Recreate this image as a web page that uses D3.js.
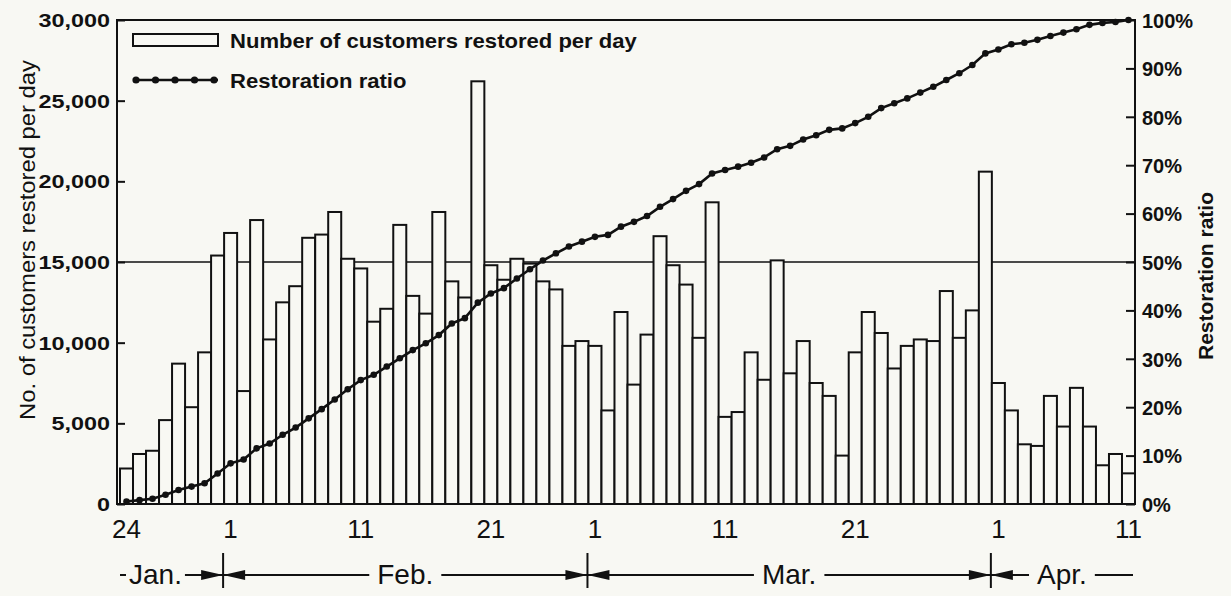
<!DOCTYPE html>
<html>
<head>
<meta charset="utf-8">
<script src="https://cdn.jsdelivr.net/npm/d3@7"></script>
<style>
  html, body { margin: 0; padding: 0; background: #f8f8f3; }
  svg { display: block; }
  text { font-family: "Liberation Sans", Arial, Helvetica, sans-serif; fill: #111; }
</style>
</head>
<body>
<svg id="chart" width="1231" height="596"></svg>
<script>
// Daily gas supply restoration, 24 Jan – 11 Apr 1995
const firstDay = new Date(1995, 0, 24);
const lastDay = new Date(1995, 3, 11);
const fmtDay = d3.timeFormat("%Y-%m-%d");
const days = d3.timeDay.range(firstDay, d3.timeDay.offset(lastDay, 1)).map(fmtDay);

// Number of customers restored on each day
const customersRestored = [
  2200, 3100, 3300, 5200, 8700, 6000, 9400, 15400,                      // Jan 24–31
  16800, 7000, 17600, 10200, 12500, 13500, 16500, 16700, 18100, 15200, // Feb 1–10
  14600, 11300, 12100, 17300, 12900, 11800, 18100, 13800, 12800, 26200, // Feb 11–20
  14800, 13900, 15200, 14900, 13800, 13300, 9800, 10100,               // Feb 21–28
  9800, 5800, 11900, 7400, 10500, 16600, 14800, 13600, 10300, 18700,   // Mar 1–10
  5400, 5700, 9400, 7700, 15100, 8100, 10100, 7500, 6700, 3000,        // Mar 11–20
  9400, 11900, 10600, 8400, 9800, 10200, 10100, 13200, 10300, 12000, 20600, // Mar 21–31
  7500, 5800, 3700, 3600, 6700, 4800, 7200, 4800, 2400, 3100, 1900     // Apr 1–11
];

// Cumulative restoration ratio (%) at the end of each day
const restorationRatio = [
  0.5, 0.8, 1.1, 1.9, 2.9, 3.6, 4.3, 6.3,
  8.4, 9.2, 11.5, 12.5, 14.3, 15.8, 17.7, 19.6, 21.6, 23.7,
  25.6, 26.7, 28.4, 30.1, 31.8, 33.2, 34.9, 37.3, 38.4, 41.6,
  43.5, 44.6, 46.6, 48.5, 50.3, 51.8, 53.2, 54.2,
  55.2, 55.6, 57.3, 58.3, 59.5, 61.4, 63.0, 64.7, 66.1, 68.3,
  69.0, 69.7, 70.5, 71.6, 73.3, 74.0, 75.3, 76.2, 77.3, 77.6,
  78.7, 80.0, 81.8, 82.8, 83.8, 85.0, 86.2, 87.6, 89.0, 90.7, 93.1,
  93.9, 95.0, 95.3, 95.9, 96.7, 97.4, 98.1, 99.0, 99.4, 99.6, 100
];

const leftTicks = [0, 5000, 10000, 15000, 20000, 25000, 30000];
const rightTicks = [0, 10, 20, 30, 40, 50, 60, 70, 80, 90, 100];
const tickDays = ["1995-01-24", "1995-02-01", "1995-02-11", "1995-02-21", "1995-03-01",
                  "1995-03-11", "1995-03-21", "1995-04-01", "1995-04-11"];
const tickLabels = ["24", "1", "11", "21", "1", "11", "21", "1", "11"];
const monthNames = ["Jan.", "Feb.", "Mar.", "Apr."];
const monthStarts = ["1995-01-24", "1995-02-01", "1995-03-01", "1995-04-01"];
const referenceLevel = 15000;

// ---- layout ----
const W = 1231, H = 596;
const plot = { left: 117, right: 1135, top: 20, bottom: 504 };
const ink = "#111";
const paper = "#f8f8f3";

const svg = d3.select("#chart");
svg.append("rect").attr("width", W).attr("height", H).attr("fill", paper);

const x = d3.scaleBand().domain(days).range([120, plot.right]).paddingInner(0).paddingOuter(0);
const y = d3.scaleLinear().domain([0, 30000]).range([plot.bottom, plot.top]);
const yR = d3.scaleLinear().domain([0, 100]).range([plot.bottom, plot.top]);

// stretch text horizontally to the given factor
function stretch(sel, k) {
  sel.each(function () {
    const len = this.getComputedTextLength();
    d3.select(this).attr("textLength", len * k).attr("lengthAdjust", "spacingAndGlyphs");
  });
}

// reference line at 15,000 (behind the bars)
svg.append("line")
  .attr("x1", plot.left).attr("x2", plot.right)
  .attr("y1", y(referenceLevel)).attr("y2", y(referenceLevel))
  .attr("stroke", ink).attr("stroke-width", 1.6);

// bars
svg.append("g").selectAll("rect")
  .data(customersRestored)
  .join("rect")
  .attr("x", (d, i) => x(days[i]))
  .attr("width", x.bandwidth())
  .attr("y", d => y(d))
  .attr("height", d => y(0) - y(d))
  .attr("fill", paper)
  .attr("stroke", ink)
  .attr("stroke-width", 2);

// frame
svg.append("rect")
  .attr("x", plot.left).attr("y", plot.top)
  .attr("width", plot.right - plot.left).attr("height", plot.bottom - plot.top)
  .attr("fill", "none").attr("stroke", ink).attr("stroke-width", 2);

// left axis
const gL = svg.append("g").attr("transform", `translate(${plot.left},0)`)
  .call(d3.axisLeft(y).tickValues(leftTicks).tickFormat(d3.format(","))
        .tickSizeInner(-8).tickSizeOuter(0).tickPadding(7));
gL.select(".domain").remove();
gL.selectAll(".tick line").attr("stroke", ink).attr("stroke-width", 2);
gL.selectAll(".tick text").attr("font-size", 18).attr("font-weight", "bold")
  .attr("font-family", "Liberation Sans, Arial, sans-serif").attr("fill", ink)
  .attr("dy", "0.36em").call(stretch, 1.3);

// right axis
const gR = svg.append("g").attr("transform", `translate(${plot.right},0)`)
  .call(d3.axisRight(yR).tickValues(rightTicks).tickFormat(d => d + "%")
        .tickSizeInner(-9).tickSizeOuter(0).tickPadding(7));
gR.select(".domain").remove();
gR.selectAll(".tick line").attr("stroke", ink).attr("stroke-width", 2);
gR.selectAll(".tick text").attr("font-size", 20).attr("font-weight", "bold")
  .attr("font-family", "Liberation Sans, Arial, sans-serif").attr("fill", ink)
  .attr("dy", "0.36em");

// restoration ratio line
const line = d3.line()
  .x((d, i) => x(days[i]) + x.bandwidth() / 2)
  .y(d => yR(d));
svg.append("path").datum(restorationRatio)
  .attr("d", line).attr("fill", "none").attr("stroke", ink).attr("stroke-width", 2.6);
svg.append("g").selectAll("circle")
  .data(restorationRatio)
  .join("circle")
  .attr("cx", (d, i) => x(days[i]) + x.bandwidth() / 2)
  .attr("cy", d => yR(d))
  .attr("r", 3.3)
  .attr("fill", ink);

// day labels under the axis
svg.append("g").selectAll("text")
  .data(tickDays)
  .join("text")
  .attr("x", d => x(d) + x.bandwidth() / 2)
  .attr("y", 538)
  .attr("text-anchor", "middle")
  .attr("font-size", 26)
  .text((d, i) => tickLabels[i]);

// month row with arrows
const rowY = 575;
const seps = monthStarts.map((d, i) => i === 0 ? 120 : x(d) - 1);
const rowEnd = 1133;
const monthG = svg.append("g");
monthNames.forEach((name, i) => {
  const left = seps[i];
  const right = i === monthNames.length - 1 ? rowEnd : seps[i + 1];
  const t = monthG.append("text").attr("y", 584).attr("font-size", 28).text(name);
  const w = t.node().getComputedTextLength();
  let tx, gap;
  if (i === 0) { tx = left + 9; gap = 3; } else { tx = (left + right) / 2 - w / 2; gap = 8; }
  t.attr("x", tx);
  monthG.append("line").attr("x1", left).attr("x2", tx - gap)
    .attr("y1", rowY).attr("y2", rowY).attr("stroke", ink).attr("stroke-width", 2);
  monthG.append("line").attr("x1", tx + w + gap).attr("x2", right)
    .attr("y1", rowY).attr("y2", rowY).attr("stroke", ink).attr("stroke-width", 2);
});
seps.slice(1).forEach(s => {
  monthG.append("line").attr("x1", s).attr("x2", s).attr("y1", 553).attr("y2", 588)
    .attr("stroke", ink).attr("stroke-width", 2);
  monthG.append("path").attr("d", `M${s},${rowY}L${s - 22},${rowY - 5}L${s - 22},${rowY + 5}Z`).attr("fill", ink);
  monthG.append("path").attr("d", `M${s},${rowY}L${s + 22},${rowY - 5}L${s + 22},${rowY + 5}Z`).attr("fill", ink);
});

// legend
const lg = svg.append("g");
lg.append("rect").attr("x", 133).attr("y", 34).attr("width", 85).attr("height", 12)
  .attr("fill", paper).attr("stroke", ink).attr("stroke-width", 2);
lg.append("text").attr("x", 230).attr("y", 47.5).attr("font-size", 21).attr("font-weight", "bold")
  .text("Number of customers restored per day").call(stretch, 1.05);
lg.append("line").attr("x1", 133).attr("x2", 218).attr("y1", 80).attr("y2", 80)
  .attr("stroke", ink).attr("stroke-width", 2.6);
lg.selectAll("circle.key").data(d3.range(5)).join("circle")
  .attr("class", "key").attr("cx", d => 136 + d * 19.5).attr("cy", 80).attr("r", 3.6).attr("fill", ink);
lg.append("text").attr("x", 230).attr("y", 87.5).attr("font-size", 21).attr("font-weight", "bold")
  .text("Restoration ratio").call(stretch, 1.05);

// axis titles
svg.append("text")
  .attr("transform", "translate(35,240) rotate(-90)")
  .attr("text-anchor", "middle").attr("font-size", 22)
  .text("No. of customers restored per day")
  .attr("textLength", 360).attr("lengthAdjust", "spacingAndGlyphs");
svg.append("text")
  .attr("transform", "translate(1213,276) rotate(-90)")
  .attr("text-anchor", "middle").attr("font-size", 21).attr("font-weight", "bold")
  .text("Restoration ratio");
</script>
</body>
</html>
